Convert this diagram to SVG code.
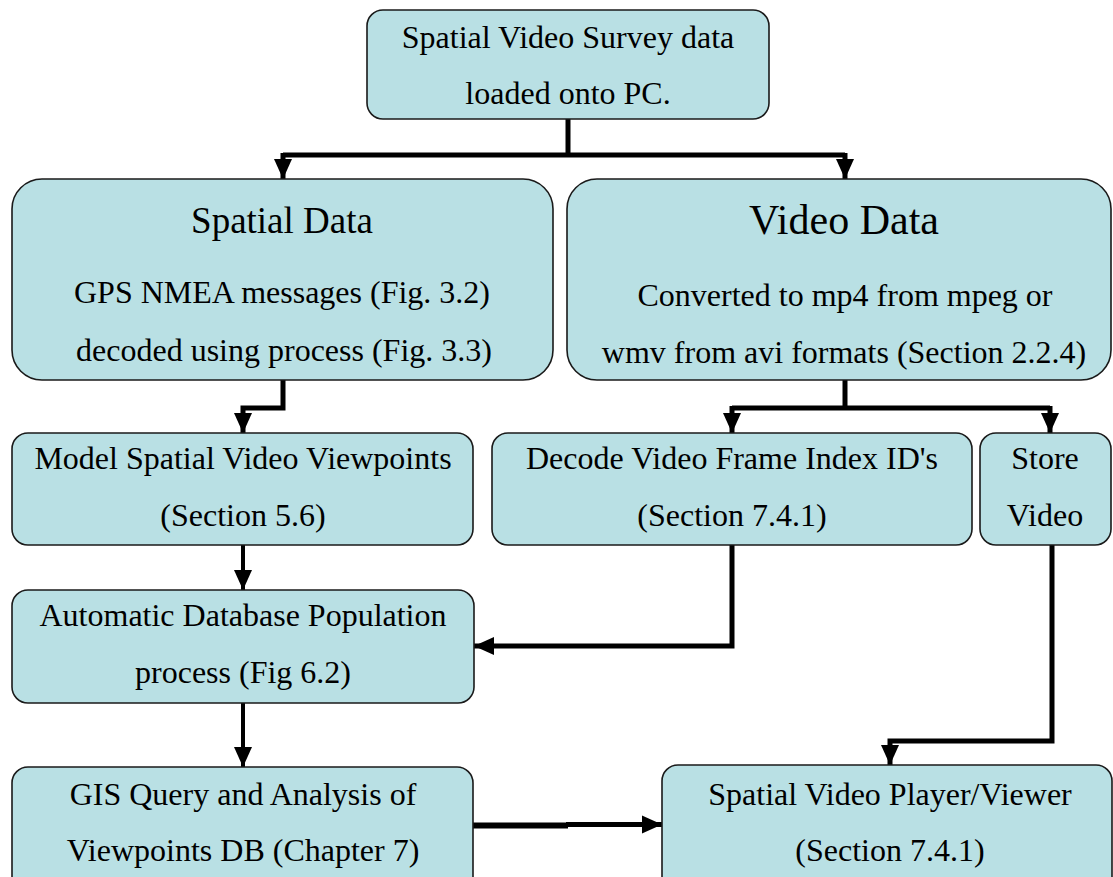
<svg xmlns="http://www.w3.org/2000/svg" width="1113" height="877" viewBox="0 0 1113 877">
<style>
.box{fill:#b9e0e4;stroke:#1a1a1a;stroke-width:1.6}
.t{font-family:'Liberation Serif','DejaVu Serif',serif;font-size:32px;fill:#000;text-anchor:middle}
.line{fill:none;stroke:#000;stroke-width:5;stroke-linejoin:miter}
.thin{stroke-width:4}
</style>
<defs>
<marker id="ah" markerUnits="userSpaceOnUse" markerWidth="20" markerHeight="20" viewBox="0 0 20 20" refX="20" refY="10" orient="auto">
<path d="M0,1 L20,10 L0,19 Z" fill="#000"/>
</marker>
</defs>
<rect width="1113" height="877" fill="#fff"/>
<g id="connectors">
<path class="line" d="M568,119 V155"/>
<path class="line" d="M283,155 H845"/>
<path class="line" d="M283,153 V179" marker-end="url(#ah)"/>
<path class="line" d="M845,153 V179" marker-end="url(#ah)"/>
<path class="line" d="M283,380 V408 H243 V433" marker-end="url(#ah)"/>
<path class="line" d="M845,380 V408"/>
<path class="line" d="M732,408 H1050"/>
<path class="line" d="M732,406 V433" marker-end="url(#ah)"/>
<path class="line" d="M1050,406 V433" marker-end="url(#ah)"/>
<path class="line thin" d="M243,545 V590" marker-end="url(#ah)"/>
<path class="line" d="M732,545 V646 H474" marker-end="url(#ah)"/>
<path class="line thin" d="M243,703 V767" marker-end="url(#ah)"/>
<path class="line" d="M1052,545 V741 H890 V765" marker-end="url(#ah)"/>
<path class="line" d="M473,825.5 H568" style="stroke-width:6"/>
<path class="line" d="M566,824.5 H662" marker-end="url(#ah)"/>
</g>
<g id="n-survey">
<rect class="box" x="367" y="10" width="402" height="109" rx="16"/>
<text class="t" x="568" y="48">Spatial Video Survey data</text>
<text class="t" x="568" y="104">loaded onto PC.</text>
</g>
<g id="n-spatial">
<rect class="box" x="12" y="179" width="541" height="201" rx="30"/>
<text class="t" x="282" y="233" style="font-size:37px">Spatial Data</text>
<text class="t" x="282" y="303">GPS NMEA messages (Fig. 3.2)</text>
<text class="t" x="284" y="361">decoded using process (Fig. 3.3)</text>
</g>
<g id="n-video">
<rect class="box" x="567" y="179" width="544" height="201" rx="30"/>
<text class="t" x="844" y="234" style="font-size:42px">Video Data</text>
<text class="t" x="845" y="306">Converted to mp4 from mpeg or</text>
<text class="t" x="844" y="363">wmv from avi formats (Section 2.2.4)</text>
</g>
<g id="n-model">
<rect class="box" x="12" y="433" width="461" height="112" rx="16"/>
<text class="t" x="243" y="469">Model Spatial Video Viewpoints</text>
<text class="t" x="243" y="526">(Section 5.6)</text>
</g>
<g id="n-decode">
<rect class="box" x="492" y="433" width="480" height="112" rx="16"/>
<text class="t" x="732" y="469">Decode Video Frame Index ID's</text>
<text class="t" x="732" y="526">(Section 7.4.1)</text>
</g>
<g id="n-store">
<rect class="box" x="980" y="433" width="131" height="112" rx="16"/>
<text class="t" x="1045" y="469">Store</text>
<text class="t" x="1045" y="526">Video</text>
</g>
<g id="n-auto">
<rect class="box" x="12" y="590" width="462" height="113" rx="16"/>
<text class="t" x="243" y="626">Automatic Database Population</text>
<text class="t" x="243" y="683">process (Fig 6.2)</text>
</g>
<g id="n-gis">
<rect class="box" x="12" y="767" width="461" height="130" rx="16"/>
<text class="t" x="243" y="805">GIS Query and Analysis of</text>
<text class="t" x="243" y="861">Viewpoints DB (Chapter 7)</text>
</g>
<g id="n-player">
<rect class="box" x="662" y="765" width="450" height="132" rx="16"/>
<text class="t" x="890" y="805">Spatial Video Player/Viewer</text>
<text class="t" x="890" y="861">(Section 7.4.1)</text>
</g>
</svg>
